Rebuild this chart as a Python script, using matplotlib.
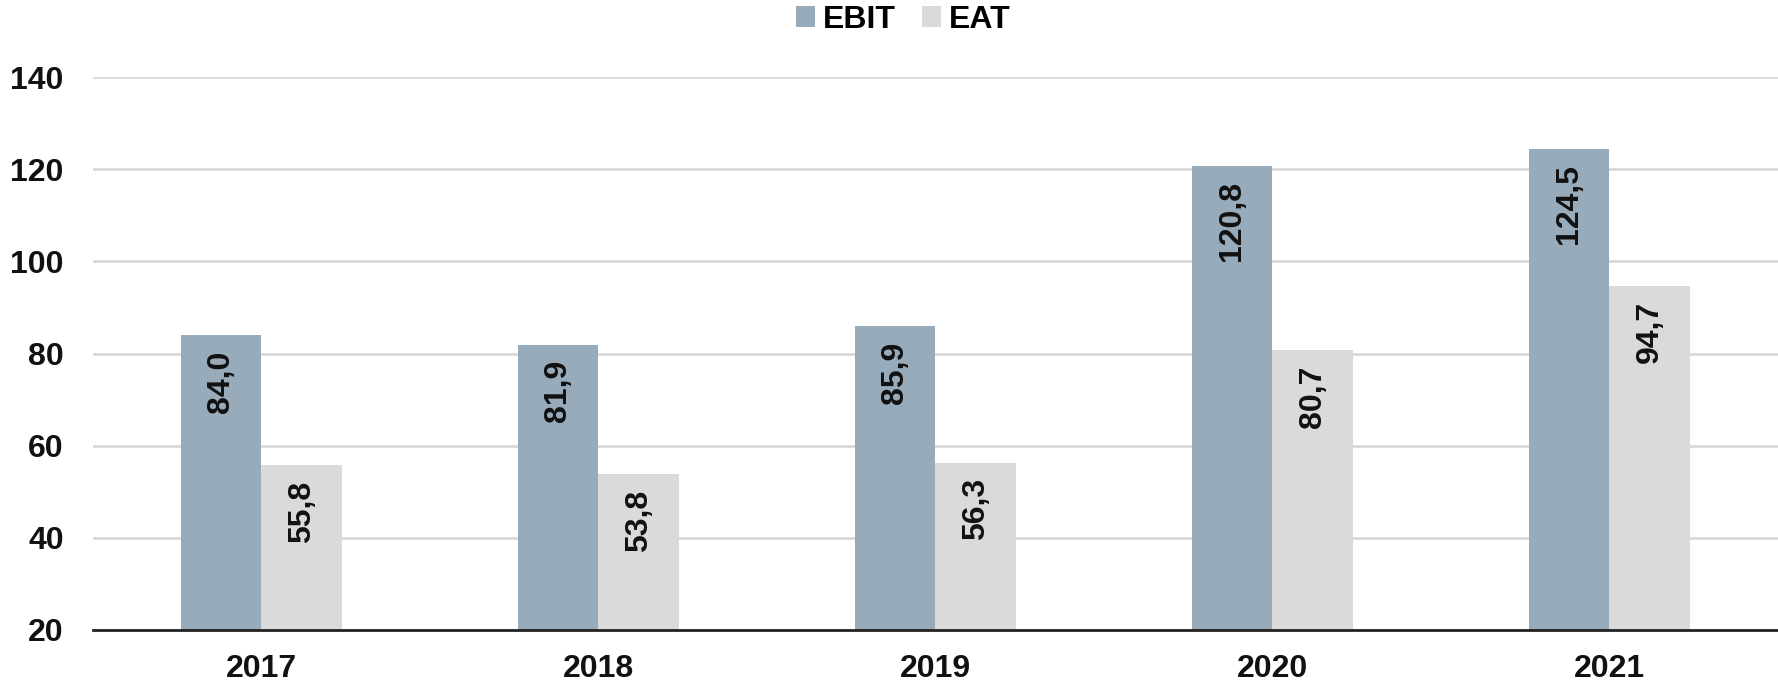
import matplotlib.pyplot as plt
import numpy as np

plt.rcParams['font.family'] = ['Liberation Sans', 'DejaVu Sans']
plt.rcParams['font.weight'] = 'bold'

anos = ['2017', '2018', '2019', '2020', '2021']
ebit = [84.0, 81.9, 85.9, 120.8, 124.5]
eat = [55.8, 53.8, 56.3, 80.7, 94.7]

cor_ebit = '#97abbb'
cor_eat = '#dadada'
largura = 0.238

fig = plt.figure(figsize=(17.78, 6.83), dpi=100)
ax = fig.add_axes([0.0523, 0.0776, 0.9477, 0.8094])

x = np.arange(len(anos))
b1 = ax.bar(x - largura/2, ebit, width=largura, bottom=0, color=cor_ebit, label='EBIT', zorder=3)
b2 = ax.bar(x + largura/2, eat, width=largura, bottom=0, color=cor_eat, label='EAT', zorder=3)

def rotulos(barras, valores):
    for barra, v in zip(barras, valores):
        ax.annotate(f'{v:.1f}'.replace('.', ','),
                    (barra.get_x() + barra.get_width()/2, barra.get_height()),
                    xytext=(0, -11), textcoords='offset points',
                    ha='center', va='top', rotation=90,
                    fontsize=23, fontweight='bold', color='#111111', zorder=4)

rotulos(b1, ebit)
rotulos(b2, eat)

ax.set_xlim(-0.5, len(anos) - 0.5)
ax.set_ylim(20, 140)
ax.set_yticks(range(20, 141, 20))
ax.set_xticks(x)
ax.set_xticklabels(anos)
ax.tick_params(axis='y', length=0, pad=21, labelsize=23, labelcolor='#111111')
ax.tick_params(axis='x', length=0, pad=17, labelsize=23, labelcolor='#111111')
for t in ax.get_xticklabels() + ax.get_yticklabels():
    t.set_fontweight('bold')

ax.grid(axis='y', color='#d9d9d9', linewidth=2, zorder=0)
for lado in ['top', 'right', 'left']:
    ax.spines[lado].set_visible(False)
ax.spines['bottom'].set_color('#222222')
ax.spines['bottom'].set_linewidth(2)
ax.spines['bottom'].set_zorder(5)

fig.legend(handles=[b1, b2], labels=['EBIT', 'EAT'], loc='upper center',
           bbox_to_anchor=(0.508, 1.035), ncol=2, frameon=False,
           prop={'size': 23, 'weight': 'bold'},
           handlelength=0.6, handleheight=0.6, handletextpad=0.25, columnspacing=0.8)

fig.savefig('out.png', dpi=100)
